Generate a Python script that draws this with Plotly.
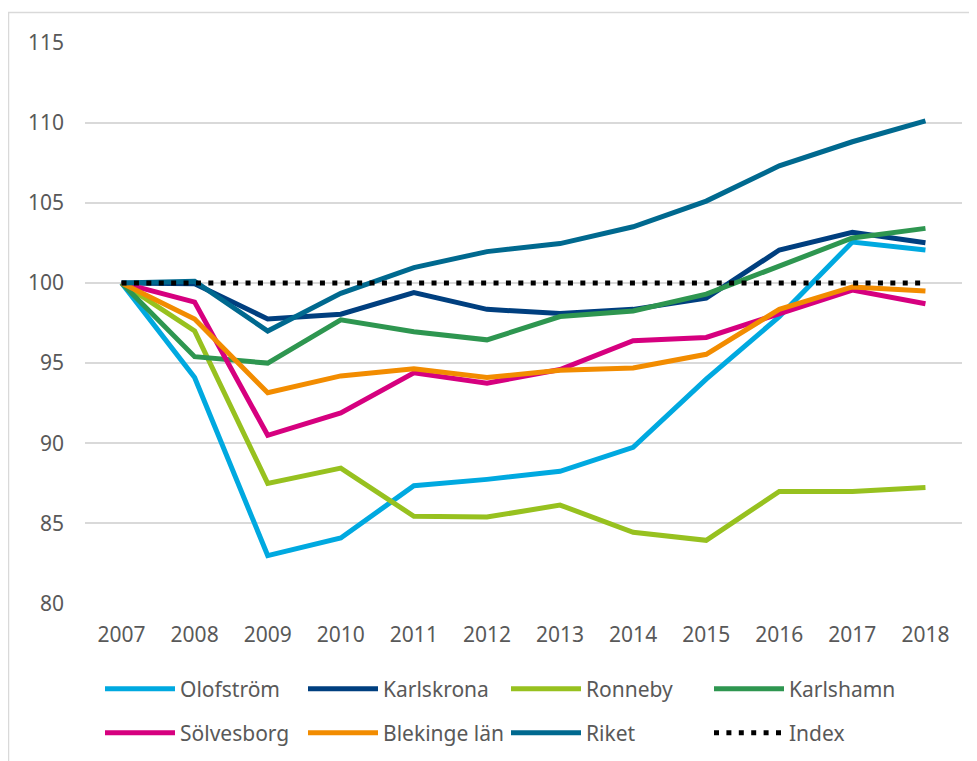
import plotly.graph_objects as go

years = ["2007", "2008", "2009", "2010", "2011", "2012", "2013", "2014", "2015", "2016", "2017", "2018"]

olofstrom = [100, 94.1, 83.0, 84.1, 87.35, 87.75, 88.25, 89.75, 94.0, 97.9, 102.55, 102.05]
karlskrona = [100, 99.95, 97.75, 98.05, 99.4, 98.35, 98.1, 98.35, 99.05, 102.05, 103.15, 102.5]
ronneby = [100, 97.0, 87.5, 88.45, 85.45, 85.4, 86.15, 84.45, 83.95, 87.0, 87.0, 87.25]
karlshamn = [100, 95.4, 95.0, 97.7, 96.95, 96.45, 97.9, 98.25, 99.3, 101.05, 102.8, 103.4]
solvesborg = [100, 98.8, 90.5, 91.9, 94.4, 93.75, 94.6, 96.4, 96.6, 98.05, 99.55, 98.7]
blekinge = [100, 97.75, 93.15, 94.2, 94.65, 94.1, 94.55, 94.7, 95.55, 98.35, 99.75, 99.5]
riket = [100, 100.1, 97.0, 99.35, 100.95, 101.95, 102.45, 103.5, 105.1, 107.3, 108.8, 110.1]
index = [100] * 12

series = [
    ("Olofström", olofstrom, "#00A9E0", "legend"),
    ("Karlskrona", karlskrona, "#003F7F", "legend"),
    ("Ronneby", ronneby, "#97C11F", "legend"),
    ("Karlshamn", karlshamn, "#2E9650", "legend"),
    ("Sölvesborg", solvesborg, "#D6007F", "legend2"),
    ("Blekinge län", blekinge, "#F28C00", "legend2"),
    ("Riket", riket, "#00698F", "legend2"),
]

FONT = "Noto Sans"
GRAY = "#595959"

# page body has an 8px margin; figure is sized/offset to compensate
OFF = 8
W, H = 969, 753
PL, PR, PT, PB = 85 - OFF, 962 - OFF, 42 - OFF, 604 - OFF   # plot box in figure px
PW, PH = PR - PL, PB - PT

def py(yw):  # window y -> paper y
    return (PB - (yw - OFF)) / PH

def px(xw):  # window x -> paper x
    return ((xw - OFF) - PL) / PW

fig = go.Figure()
for name, vals, color, leg in series:
    fig.add_trace(go.Scatter(
        x=years, y=vals, name=name, mode="lines",
        line=dict(color=color, width=5),
        legend=leg, hoverinfo="skip",
    ))
fig.add_trace(go.Scatter(
    x=years, y=index, name="Index", mode="lines",
    line=dict(color="black", width=5, dash="5px,7.4px"),
    legend="legend2", hoverinfo="skip",
))

legend_common = dict(
    orientation="h", xanchor="left", yanchor="middle",
    x=px(100),
    entrywidth=118, entrywidthmode="pixels", itemwidth=70,
    font=dict(family=FONT, size=21, color=GRAY),
    bgcolor="rgba(0,0,0,0)", traceorder="normal",
)

fig.update_layout(
    width=W, height=H,
    margin=dict(l=PL, r=W - PR, t=PT, b=H - PB, autoexpand=False),
    paper_bgcolor="white", plot_bgcolor="white",
    font=dict(family=FONT, size=21, color=GRAY),
    showlegend=True,
    legend=dict(**legend_common, y=py(689)),
    legend2=dict(**legend_common, y=py(733)),
    xaxis=dict(
        type="category", range=[-0.5, 11.5],
        showgrid=False, zeroline=False, showline=False,
        ticks="", ticklabelstandoff=16, automargin=False,
        tickfont=dict(family=FONT, size=21, color=GRAY),
    ),
    yaxis=dict(
        range=[79.98, 115.02], tickvals=[80, 85, 90, 95, 100, 105, 110, 115],
        showgrid=True, gridcolor="#D9D9D9", gridwidth=1.5,
        zeroline=False, showline=False, ticks="", ticklabelstandoff=20,
        automargin=False,
        tickfont=dict(family=FONT, size=21, color=GRAY),
    ),
    shapes=[dict(
        type="rect", xref="paper", yref="paper",
        x0=px(8.5), x1=1.3, y0=-0.5, y1=py(12.5),
        line=dict(color="#D9D9D9", width=1.5), fillcolor="rgba(0,0,0,0)",
        layer="below",
    )],
)

fig.write_html("out.html")
